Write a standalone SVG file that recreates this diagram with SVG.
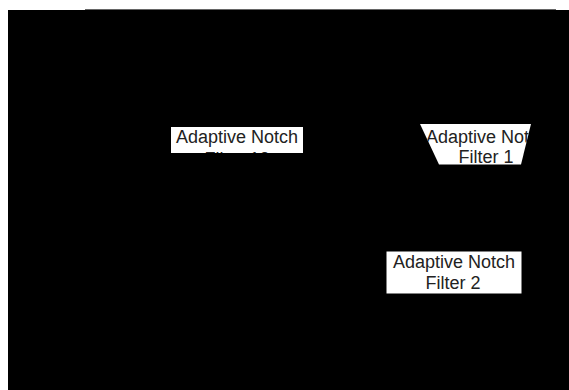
<svg xmlns="http://www.w3.org/2000/svg" width="569" height="390" viewBox="0 0 569 390">
<style>
.bg{fill:#000000}
.box{fill:#ffffff;stroke:none}
.lbl{font-family:"Liberation Sans",Arial,sans-serif;font-size:18px;fill:#222222;text-anchor:middle}
</style>
<defs>
<clipPath id="c12"><rect x="171" y="127" width="132" height="26"/></clipPath>
<clipPath id="c1"><polygon points="420,124 531,124 521,164.5 439,164.5"/></clipPath>
<clipPath id="c2"><rect x="386.5" y="251.5" width="135" height="42"/></clipPath>
</defs>
<rect x="0" y="0" width="569" height="390" fill="#ffffff"/>
<line x1="85" y1="9.5" x2="556" y2="9.5" stroke="#666666" stroke-width="1"/>
<rect class="bg" x="8" y="10" width="561" height="380"/>
<g id="connectors"></g>
<g id="node-anf12">
<rect class="box" x="171" y="127" width="132" height="26"/>
<g clip-path="url(#c12)">
<text class="lbl" x="237" y="143.3">Adaptive Notch</text>
<text class="lbl" x="237" y="164.5">Filter 12</text>
</g>
</g>
<g id="node-anf1">
<polygon class="box" points="420,124 531,124 521,164.5 439,164.5"/>
<g clip-path="url(#c1)">
<text class="lbl" x="487" y="142.7">Adaptive Notch</text>
<text class="lbl" x="486" y="162.7">Filter 1</text>
</g>
</g>
<g id="node-anf2">
<rect class="box" x="386.5" y="251.5" width="135" height="42"/>
<g clip-path="url(#c2)">
<text class="lbl" x="454" y="268.3">Adaptive Notch</text>
<text class="lbl" x="453" y="289.3">Filter 2</text>
</g>
</g>
</svg>
